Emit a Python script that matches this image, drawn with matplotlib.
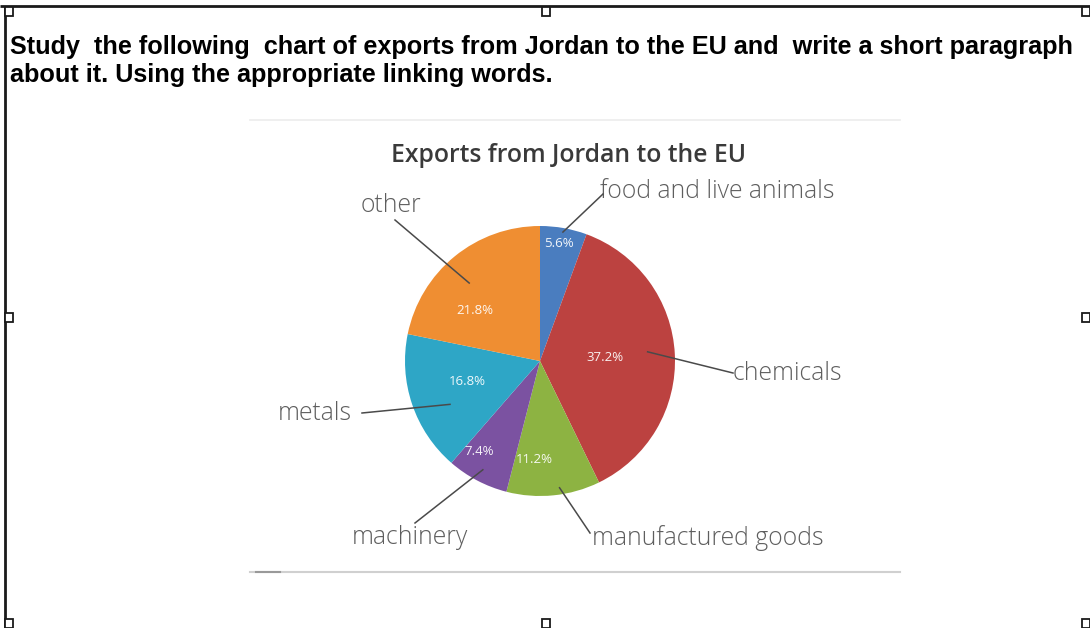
import numpy as np
import matplotlib.pyplot as plt
from matplotlib.patches import Rectangle

W, H = 1090, 628

# data
categories = ['food and live animals', 'chemicals', 'manufactured goods',
              'machinery', 'metals', 'other']
shares = [5.6, 37.2, 11.2, 7.4, 16.8, 21.8]
colors = ['#4a7dbf', '#bc4240', '#8db342', '#7b52a1', '#2ea6c6', '#ef8e32']

heading = ["Study  the following  chart of exports from Jordan to the EU and  write a short paragraph",
           "about it. Using the appropriate linking words."]
title = 'Exports from Jordan to the EU'

# layout (image pixel coords, y down)
cx, cy, R = 540, 361, 135
# percent label: (radius fraction, angle offset deg)
pct_pos = [(0.88, 1), (0.48, 0), (0.73, -9), (0.81, -6), (0.56, -3), (0.61, 13)]
# leader: (anchor radius fraction, angle offset, line end px, text anchor px, ha)
leaders = [
    (0.97, 0, (603, 194), (600, 192), 'left'),
    (0.80, 2, (733, 373), (733, 373), 'left'),
    (0.95, 3, (590, 533), (592, 538), 'left'),
    (0.91, 0, (415, 523), (410, 538), 'center'),
    (0.74, 7, (362, 413), (352, 413), 'right'),
    (0.78, 3, (395, 220), (391, 205), 'center'),
]

fig = plt.figure(figsize=(W / 100, H / 100), dpi=100)
fig.patch.set_facecolor('white')

# pie axes
pax = fig.add_axes([(cx - R) / W, (H - cy - R) / H, 2 * R / W, 2 * R / H])
wedges, _ = pax.pie(shares, colors=colors, startangle=90, counterclock=False,
                    wedgeprops=dict(linewidth=0))
pax.set_xlim(-1, 1)
pax.set_ylim(-1, 1)
pax.axis('off')

# overlay axes in pixel coords, drawn above the pie
ov = fig.add_axes([0, 0, 1, 1])
ov.set_xlim(0, W)
ov.set_ylim(H, 0)
ov.axis('off')
ov.set_zorder(3)

# document frame and handles
ov.plot([0, W], [6, 6], color='#1a1a1a', lw=2, solid_capstyle='butt')
ov.plot([5, 5], [6, H], color='#1a1a1a', lw=2, solid_capstyle='butt')
handles = [(5, 7), (542, 7), (1082, 7), (5, 313), (1082, 313),
           (5, 619), (542, 619), (1082, 619)]
for hx, hy in handles:
    ov.add_patch(Rectangle((hx, hy), 8, 9, facecolor='white',
                           edgecolor='#1a1a1a', lw=1.3, zorder=5))

# heading
ov.text(10, 47, heading[0], fontsize=18.2, fontweight='bold',
        family='Liberation Sans', ha='left', va='center', color='black')
ov.text(10, 75, heading[1], fontsize=18.2, fontweight='bold',
        family='Liberation Sans', ha='left', va='center', color='black')

# chart picture borders
ov.plot([250, 900], [120, 120], color='#ececec', lw=1.2)
ov.plot([250, 900], [572, 572], color='#d0d0d0', lw=1.5)
ov.plot([256, 280], [572, 572], color='#999999', lw=1.5)

ov.text(569, 155, title, fontsize=17.8, fontweight='semibold',
        family='Open Sans', ha='center', va='center', color='#3a3a3a')

for w, v, (rf, da), (af, dl, lend, tpos, ha), name in zip(
        wedges, shares, pct_pos, leaders, categories):
    mid = np.deg2rad((w.theta1 + w.theta2) / 2)
    a = mid + np.deg2rad(da)
    ov.text(cx + rf * R * np.cos(a), cy - rf * R * np.sin(a), f'{v}%',
            ha='center', va='center', fontsize=9.5, color='white',
            family='Open Sans', alpha=0.92)
    b = mid + np.deg2rad(dl)
    ax_pt = (cx + af * R * np.cos(b), cy - af * R * np.sin(b))
    ov.plot([ax_pt[0], lend[0]], [ax_pt[1], lend[1]], color='#4a4a4a', lw=1.1,
            zorder=4)
    ov.text(tpos[0], tpos[1], name, ha=ha, va='center', fontsize=17.8,
            family='Open Sans', fontweight='light', color='#5e5e5e')

fig.savefig('out.png', dpi=100)
